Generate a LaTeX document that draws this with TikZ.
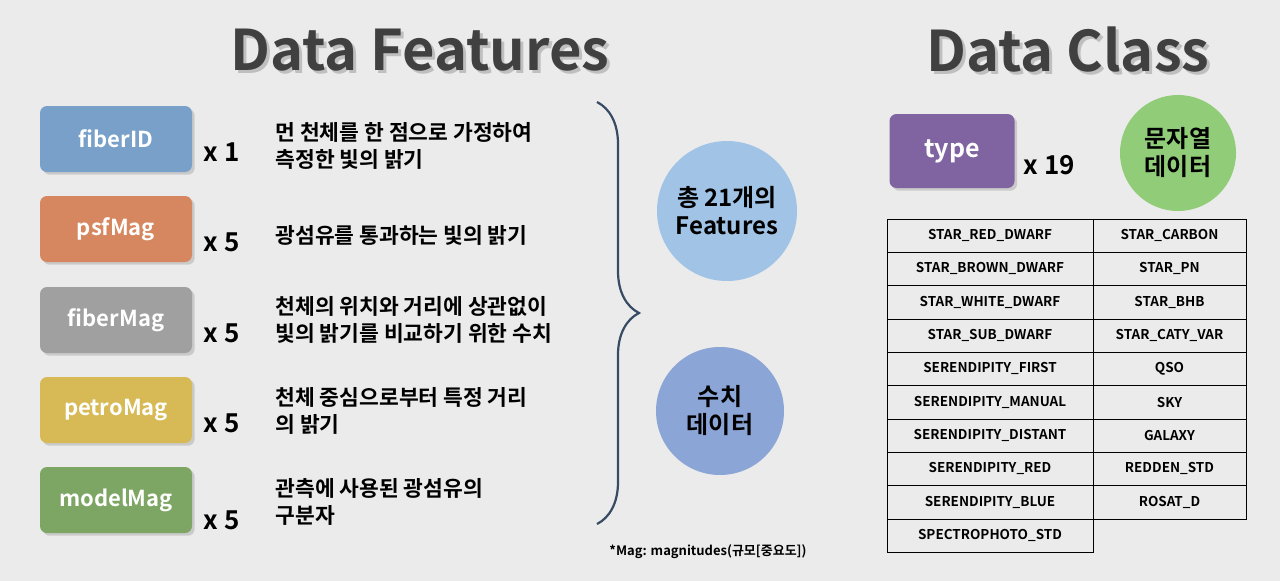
\documentclass[tikz,border=0pt]{standalone}
\usepackage{fontspec}
\setmainfont{Noto Sans CJK KR}[BoldFont={* Bold}]
\usetikzlibrary{calc,positioning,decorations.pathreplacing,shadows}
\definecolor{bgc}{HTML}{EBEBEB}
\definecolor{titlec}{HTML}{404040}
\tikzset{
  feat/.style={draw=none,rounded corners=7pt,minimum width=152pt,minimum height=66pt,
    text=white,font=\fontsize{22}{24}\selectfont\bfseries,drop shadow={opacity=0.3}},
  times/.style={font=\fontsize{26}{28}\selectfont\bfseries,anchor=west},
  desc/.style={font=\fontsize{21.5}{27}\selectfont\bfseries,anchor=west,align=left},
  title/.style={font=\fontsize{56}{60}\selectfont\bfseries,text=titlec},
  blob/.style={circle,draw=none,align=center,font=\fontsize{24}{28}\selectfont\bfseries},
  cell/.style={draw,minimum width=206pt,minimum height=33.3pt,font=\fontsize{13.5}{15}\selectfont\bfseries,inner sep=0pt},
}
\begin{document}
\begin{tikzpicture}[x=1pt,y=-1pt]
\useasboundingbox[fill=bgc] (0,0) rectangle (1280,581);
% titles
\node[title,text=black!25] at (423,53) {Data Features};
\node[title] (tf) at (420,50) {Data Features};
\node[title,text=black!25] at (1071,53) {Data Class};
\node[title] (tc) at (1068,50) {Data Class};
% features
\node[feat,fill={rgb,255:red,120;green,160;blue,200}] (fid) at (116,139) {fiberID};
\node[feat,fill={rgb,255:red,215;green,135;blue,95}] (psf) at (116,229) {psfMag};
\node[feat,fill={rgb,255:red,160;green,160;blue,160}] (fib) at (116,320) {fiberMag};
\node[feat,fill={rgb,255:red,215;green,185;blue,85}] (pet) at (116,410) {petroMag};
\node[feat,fill={rgb,255:red,125;green,165;blue,100}] (mod) at (116,500) {modelMag};
\node[times] at (200,152) {x 1};
\node[times] at (200,242) {x 5};
\node[times] at (200,333) {x 5};
\node[times] at (200,423) {x 5};
\node[times] at (200,520) {x 5};
\node[desc] at (272,146) {먼 천체를 한 점으로 가정하여\\측정한 빛의 밝기};
\node[desc] at (272,235) {광섬유를 통과하는 빛의 밝기};
\node[desc] at (272,320) {천체의 위치와 거리에 상관없이\\빛의 밝기를 비교하기 위한 수치};
\node[desc] at (272,411) {천체 중심으로부터 특정 거리\\의 밝기};
\node[desc] at (272,502) {관측에 사용된 광섬유의\\구분자};
% brace
\draw[line width=2.2pt,color={rgb,255:red,55;green,75;blue,100},
  decorate,decoration={brace,amplitude=42pt,aspect=0.5}] (597,102) -- (597,524);
\node[blob,fill={rgb,255:red,160;green,195;blue,230},minimum size=140pt] (tot) at (727,211) {총 21개의\\Features};
\node[blob,fill={rgb,255:red,140;green,165;blue,215},minimum size=128pt] (num) at (720,411) {수치\\데이터};
\node[font=\fontsize{13}{15}\selectfont\bfseries] at (708,552) {*Mag: magnitudes(규모[중요도])};
% class
\node[feat,fill={rgb,255:red,128;green,100;blue,162},minimum width=125pt,minimum height=74pt,
  font=\fontsize{25}{28}\selectfont\bfseries] (typ) at (952,151) {type};
\node[times] at (1020,165) {x 19};
\node[blob,fill={rgb,255:red,145;green,205;blue,120},minimum size=116pt] (str) at (1178,153) {문자열\\데이터};
\foreach \t [count=\i] in {STAR\_RED\_DWARF,STAR\_BROWN\_DWARF,STAR\_WHITE\_DWARF,STAR\_SUB\_DWARF,
  SERENDIPITY\_FIRST,SERENDIPITY\_MANUAL,SERENDIPITY\_DISTANT,SERENDIPITY\_RED,
  SERENDIPITY\_BLUE,SPECTROPHOTO\_STD}
  \node[cell] (l\i) at (990,{202.35+33.3*\i}) {\t};
\foreach \t [count=\i] in {STAR\_CARBON,STAR\_PN,STAR\_BHB,STAR\_CATY\_VAR,QSO,SKY,GALAXY,
  REDDEN\_STD,ROSAT\_D}
  \node[cell,minimum width=153pt] (r\i) at (1169.5,{202.35+33.3*\i}) {\t};
\end{tikzpicture}
\end{document}
